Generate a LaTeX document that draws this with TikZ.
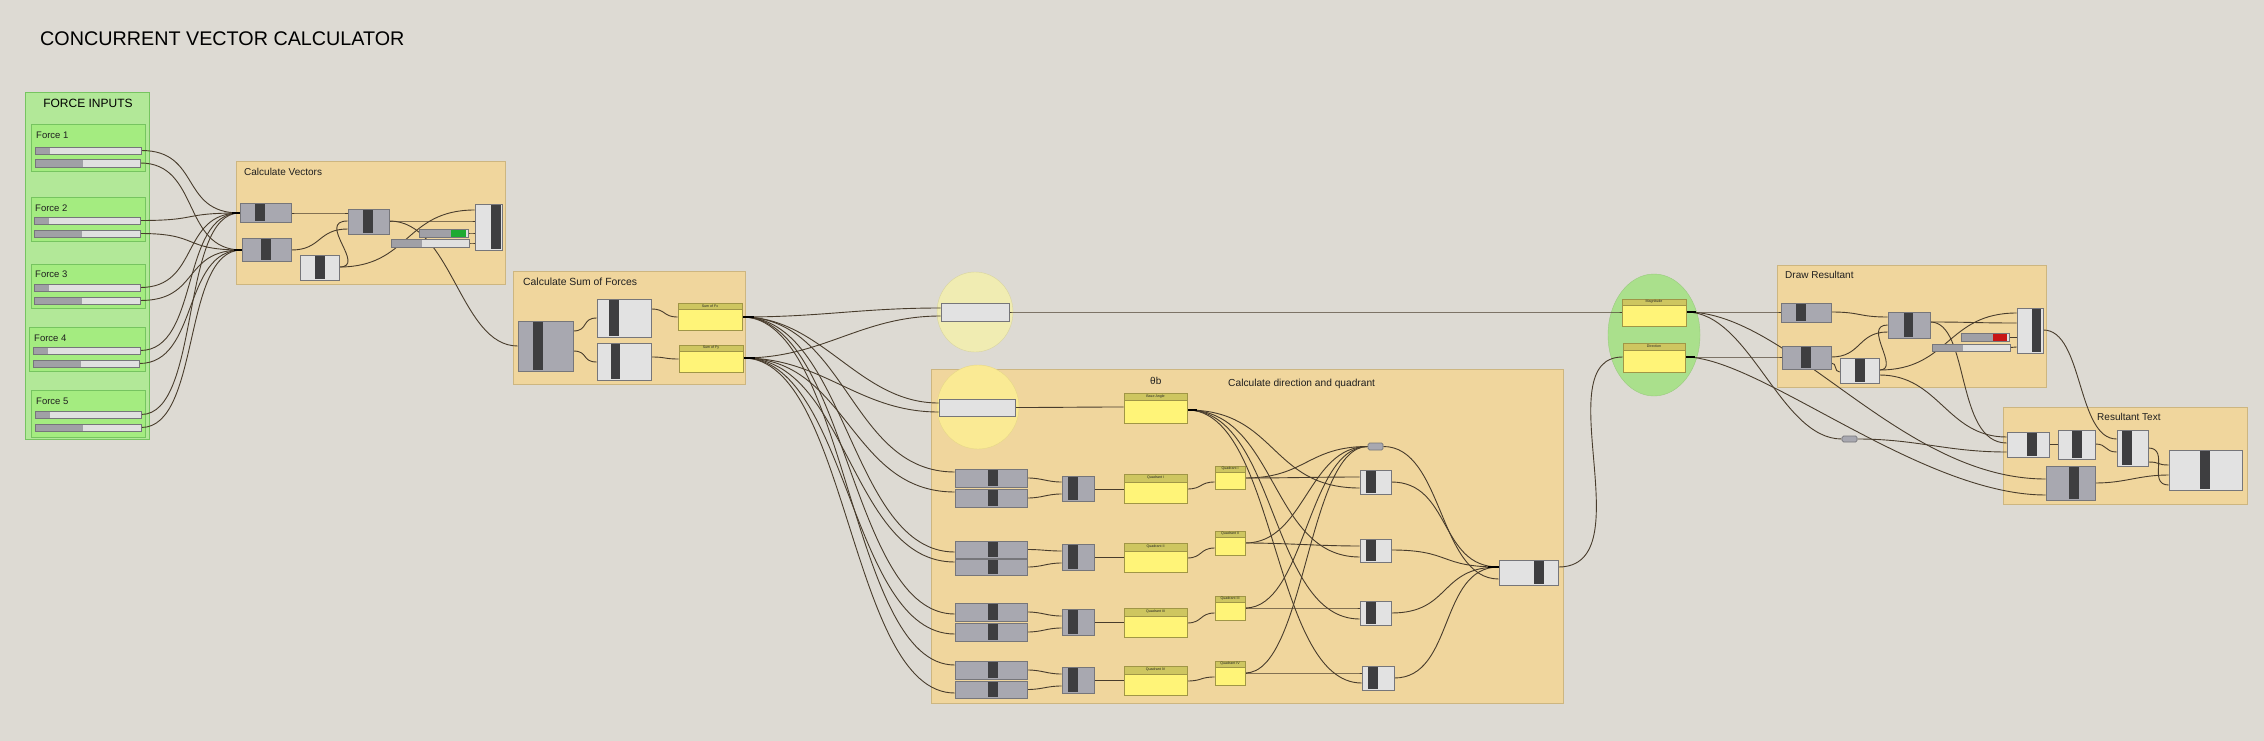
\documentclass[tikz,border=0pt]{standalone}
\usepackage{fontspec}
\setmainfont{Liberation Sans}
\usetikzlibrary{fit,shapes.geometric}
\definecolor{cBg}{RGB}{221,218,211}
\definecolor{cGrp}{RGB}{240,214,157}
\definecolor{cGrpLine}{RGB}{205,182,128}
\definecolor{cF1}{RGB}{178,232,152}
\definecolor{cF2}{RGB}{164,236,128}
\definecolor{cFLine}{RGB}{118,196,96}
\definecolor{cGray}{RGB}{168,168,176}
\definecolor{cLight}{RGB}{226,226,226}
\definecolor{cLine}{RGB}{118,118,122}
\definecolor{cBar}{RGB}{62,62,64}
\definecolor{cSl}{RGB}{224,224,224}
\definecolor{cSlDark}{RGB}{160,160,166}
\definecolor{cYel}{RGB}{255,244,120}
\definecolor{cYelHead}{RGB}{206,198,96}
\definecolor{cYelLine}{RGB}{160,150,70}
\definecolor{cWire}{RGB}{72,60,44}
\definecolor{cEll1}{RGB}{240,236,178}
\definecolor{cEll2}{RGB}{250,234,148}
\definecolor{cEllG}{RGB}{170,224,140}
\definecolor{cGreen}{RGB}{30,170,50}
\definecolor{cRed}{RGB}{200,22,22}
\pgfdeclarelayer{bg}
\pgfdeclarelayer{wires}
\pgfsetlayers{bg,wires,main}
\newcommand\boxnode[6]{\path (#3,#4) coordinate (#1-a) (#5,#6) coordinate (#1-b); \node[#2, fit=(#1-a)(#1-b), inner sep=0pt] (#1) {};}
\newcommand\comp[8]{\boxnode{#1}{#2}{#3}{#4}{#5}{#6}\fill[cBar] (#7,#4+1) rectangle (#8,#6-1);}
\newcommand\slider[7]{\boxnode{#1}{sliderc}{#2}{#3}{#4}{#5}\fill[#7] (#2,#3) rectangle (#6,#5); \draw[cLine, line width=0.6pt] (#2,#3) rectangle (#4,#5);}
\newcommand\panel[7]{\boxnode{#1}{ypanel}{#2}{#3}{#4}{#5}\fill[cYelHead] (#2,#3) rectangle (#4,#7); \draw[cYelLine, line width=0.6pt] (#2,#7) -- (#4,#7); \draw[cYelLine, line width=0.6pt] (#2,#3) rectangle (#4,#5); \node[tinytext] (#1-t) at ({(#2+#4)/2},{(#3+#7)/2}) {#6};}
\newcommand\W[3][50]{\draw[wire] (#2) .. controls +(#1,0) and +(-#1,0) .. (#3);}
\tikzset{
 grp/.style={fill=cGrp, draw=cGrpLine, line width=0.8pt},
 forceouter/.style={fill=cF1, draw=cFLine, line width=0.8pt},
 forcebox/.style={fill=cF2, draw=cFLine, line width=0.6pt},
 graycomp/.style={fill=cGray, draw=cLine, line width=0.7pt},
 lightcomp/.style={fill=cLight, draw=cLine, line width=0.7pt},
 sliderc/.style={fill=cSl, draw=cLine, line width=0.6pt},
 ypanel/.style={fill=cYel, draw=cYelLine, line width=0.6pt},
 wire/.style={draw=cWire, line width=0.9pt},
 stub/.style={draw=black, line width=2.4pt},
 tinytext/.style={font=\fontsize{3.6}{4}\selectfont, inner sep=0pt, text=black!85},
 lbl/.style={font=\fontsize{10}{12}\selectfont, anchor=base west, inner sep=0pt, text=black!88},
}
\begin{document}
\begin{tikzpicture}[x=1pt,y=-1pt]
\useasboundingbox (0,0) rectangle (2264,741);
\begin{pgfonlayer}{bg}
\fill[cBg] (0,0) rectangle (2264,741);
\boxnode{forcein}{forceouter}{25}{92}{149}{439}
\boxnode{fb1}{forcebox}{31}{124}{145}{171}
\boxnode{fb2}{forcebox}{31}{197}{145}{241}
\boxnode{fb3}{forcebox}{31}{264}{145}{308}
\boxnode{fb4}{forcebox}{29}{327}{145}{371}
\boxnode{fb5}{forcebox}{31}{390}{145}{437}
\boxnode{gvec}{grp}{236}{161}{505}{284}
\boxnode{gsum}{grp}{513}{271}{745}{384}
\boxnode{gdir}{grp}{931}{369}{1563}{703}
\boxnode{gdraw}{grp}{1777}{265}{2046}{387}
\boxnode{gtext}{grp}{2003}{407}{2247}{504}
\node[ellipse, fill=cEll1, draw=cEll1!90!black, line width=0.4pt, minimum width=76pt, minimum height=80pt, inner sep=0pt] (ell1) at (975,312) {};
\node[ellipse, fill=cEll2, draw=cEll2!92!black, line width=0.4pt, minimum width=82pt, minimum height=84pt, inner sep=0pt] (ell2) at (978,407) {};
\node[ellipse, fill=cEllG, draw=cEllG!90!black, line width=0.4pt, minimum width=92pt, minimum height=122pt, inner sep=0pt] (ellg) at (1654,335) {};
\end{pgfonlayer}

% texts
\node[anchor=base west, inner sep=0pt, font=\fontsize{19.75}{24}\selectfont] (title) at (40,46) {CONCURRENT VECTOR CALCULATOR};
\node[anchor=base, inner sep=0pt, font=\fontsize{12}{14}\selectfont] (fitxt) at (88,107.5) {FORCE INPUTS};
\node[lbl, font=\fontsize{9.5}{11}\selectfont] (fl1) at (36,138.5) {Force 1};
\node[lbl, font=\fontsize{9.5}{11}\selectfont] (fl2) at (35,211.5) {Force 2};
\node[lbl, font=\fontsize{9.5}{11}\selectfont] (fl3) at (35,277.5) {Force 3};
\node[lbl, font=\fontsize{9.5}{11}\selectfont] (fl4) at (34,341.5) {Force 4};
\node[lbl, font=\fontsize{9.5}{11}\selectfont] (fl5) at (36,404.5) {Force 5};
\node[lbl] (lvec) at (244,175.5) {Calculate Vectors};
\node[lbl, font=\fontsize{10.4}{12}\selectfont] (lsum) at (523,285.5) {Calculate Sum of Forces};
\node[lbl] (lth) at (1150,384) {θb};
\node[lbl, font=\fontsize{10.2}{12}\selectfont] (ldir) at (1228,386.5) {Calculate direction and quadrant};
\node[lbl] (ldraw) at (1785,278.5) {Draw Resultant};
\node[lbl] (ltext) at (2097,420.5) {Resultant Text};

% force sliders
\slider{f1a}{35}{147}{141}{154}{50}{cSlDark}
\slider{f1b}{35}{159}{140}{167}{83}{cSlDark}
\slider{f2a}{34}{217}{140}{224}{49}{cSlDark}
\slider{f2b}{34}{230}{140}{237}{82}{cSlDark}
\slider{f3a}{34}{284}{140}{291}{49}{cSlDark}
\slider{f3b}{34}{297}{140}{304}{82}{cSlDark}
\slider{f4a}{33}{347}{140}{354}{48}{cSlDark}
\slider{f4b}{33}{360}{139}{367}{81}{cSlDark}
\slider{f5a}{35}{411}{141}{418}{50}{cSlDark}
\slider{f5b}{35}{424}{141}{431}{83}{cSlDark}

% calculate vectors
\comp{c1}{graycomp}{240}{203}{291}{222}{255}{265}
\comp{c2}{graycomp}{242}{238}{291}{261}{261}{271}
\comp{c3}{graycomp}{348}{209}{389}{234}{363}{373}
\comp{c4}{lightcomp}{300}{255}{339}{280}{315}{325}
\slider{gsl}{419}{229}{468}{237}{451}{cSlDark}
\fill[cGreen] (451,229.5) rectangle (466,236.5);
\slider{lsl}{391}{239}{469}{247}{422}{cSlDark}
\comp{c5}{lightcomp}{475}{204}{502}{250}{491}{501}

% sum
\comp{s1}{graycomp}{518}{321}{573}{371}{533}{543}
\comp{s2}{lightcomp}{597}{299}{651}{337}{609}{619}
\comp{s3}{lightcomp}{597}{343}{651}{380}{611}{620}
\panel{pfx}{678}{303}{742}{330}{Sum of Fx}{309}
\panel{pfy}{679}{345}{743}{372}{Sum of Fy}{351}

% ellipses content
\boxnode{r1}{lightcomp}{941}{303}{1009}{321}
\boxnode{r2}{lightcomp}{939}{399}{1015}{416}
\panel{base}{1124}{393}{1187}{423}{Base Angle}{400}

% rows
\comp{pa1}{graycomp}{955}{469}{1027}{487}{988}{998}
\comp{pb1}{graycomp}{955}{489}{1027}{507}{988}{998}
\comp{pa2}{graycomp}{955}{541}{1027}{558}{988}{998}
\comp{pb2}{graycomp}{955}{559}{1027}{575}{988}{998}
\comp{pa3}{graycomp}{955}{603}{1027}{621}{988}{998}
\comp{pb3}{graycomp}{955}{623}{1027}{641}{988}{998}
\comp{pa4}{graycomp}{955}{661}{1027}{679}{988}{998}
\comp{pb4}{graycomp}{955}{681}{1027}{698}{988}{998}
\comp{sg1}{graycomp}{1062}{476}{1094}{501}{1068}{1078}
\comp{sg2}{graycomp}{1062}{544}{1094}{570}{1068}{1078}
\comp{sg3}{graycomp}{1062}{609}{1094}{635}{1068}{1078}
\comp{sg4}{graycomp}{1062}{667}{1094}{693}{1068}{1078}
\panel{q1}{1124}{474}{1187}{503}{Quadrant I}{482}
\panel{q2}{1124}{543}{1187}{572}{Quadrant II}{551}
\panel{q3}{1124}{608}{1187}{637}{Quadrant III}{616}
\panel{q4}{1124}{666}{1187}{695}{Quadrant IV}{674}
\panel{y1}{1215}{466}{1245}{489}{Quadrant I}{472}
\panel{y2}{1215}{531}{1245}{555}{Quadrant II}{537}
\panel{y3}{1215}{596}{1245}{620}{Quadrant III}{602}
\panel{y4}{1215}{661}{1245}{685}{Quadrant IV}{667}
\boxnode{rel1}{graycomp, rounded corners=1.5pt}{1368}{443}{1383}{450}
\comp{lc1}{lightcomp}{1360}{470}{1391}{494}{1366}{1376}
\comp{lc2}{lightcomp}{1360}{539}{1391}{562}{1366}{1376}
\comp{lc3}{lightcomp}{1360}{601}{1391}{625}{1366}{1376}
\comp{lc4}{lightcomp}{1362}{666}{1394}{690}{1368}{1378}
\comp{fin}{lightcomp}{1499}{560}{1558}{585}{1534}{1544}

% green ellipse panels
\panel{mag}{1622}{299}{1686}{326}{Magnitude}{305}
\panel{dir}{1623}{343}{1685}{372}{Direction}{350}

% draw resultant
\comp{d1}{graycomp}{1781}{303}{1831}{322}{1796}{1806}
\comp{d2}{graycomp}{1782}{346}{1831}{369}{1801}{1811}
\comp{d3}{graycomp}{1888}{312}{1930}{338}{1904}{1913}
\comp{d4}{lightcomp}{1840}{358}{1879}{383}{1855}{1865}
\slider{rsl}{1961}{333}{2009}{341}{1993}{cSlDark}
\fill[cRed] (1993,333.5) rectangle (2007,340.5);
\slider{lsl2}{1932}{344}{2010}{351}{1963}{cSlDark}
\comp{d5}{lightcomp}{2017}{308}{2043}{353}{2032}{2041}

% resultant text
\boxnode{rel2}{graycomp, rounded corners=1.5pt}{1842}{436}{1857}{442}
\comp{rt1}{lightcomp}{2007}{432}{2049}{457}{2027}{2037}
\comp{rt2}{lightcomp}{2058}{430}{2095}{459}{2072}{2082}
\comp{rt3}{lightcomp}{2117}{430}{2148}{466}{2122}{2132}
\comp{rt4}{graycomp}{2046}{466}{2095}{500}{2069}{2079}
\comp{rt5}{lightcomp}{2169}{450}{2242}{490}{2200}{2210}

\begin{pgfonlayer}{wires}
% force inputs to vectors
\foreach \k in {1,...,5}{
  \W[60]{f\k a.east}{c1.west |- 0,213}
  \W[60]{f\k b.east}{c2.west |- 0,250}
}
\draw[stub] (232,213) -- (c1.west |- 0,213);
\draw[stub] (234,250) -- (c2.west |- 0,250);
% inside calculate vectors
\W[30]{c1.east |- 0,213}{c3.west |- 0,213}
\W[30]{c2.east |- 0,250}{c3.west |- 0,229}
\draw[wire] (c4.east |- 0,267) .. controls +(28,0) and +(-32,0) .. (c3.west |- 0,221);
\W[70]{c4.east |- 0,267}{c5.west |- 0,210}
\W[40]{c3.east |- 0,221}{c5.west |- 0,221}
\draw[wire] (c3.east |- 0,221) .. controls (452,221) and (460,346) .. (s1.west |- 0,346);
\W[5]{gsl.east}{c5.west |- 0,233}
\W[5]{lsl.east}{c5.west |- 0,243}
% sum of forces
\W[15]{s1.east |- 0,331}{s2.west |- 0,318}
\W[15]{s1.east |- 0,351}{s3.west |- 0,362}
\W[15]{s2.east |- 0,309}{pfx.west |- 0,317}
\W[15]{s3.east |- 0,357}{pfy.west |- 0,359}
% fan out
\W[80]{pfx.east |- 0,317}{r1.west |- 0,308}
\W[80]{pfy.east |- 0,358}{r1.west |- 0,316}
\W[80]{pfx.east |- 0,317}{r2.west |- 0,403}
\W[80]{pfy.east |- 0,358}{r2.west |- 0,412}
\W[105]{pfx.east |- 0,317}{pa1.west |- 0,472}
\W[105]{pfy.east |- 0,358}{pb1.west |- 0,492}
\W[105]{pfx.east |- 0,317}{pa2.west |- 0,552}
\W[105]{pfy.east |- 0,358}{pb2.west |- 0,562}
\W[105]{pfx.east |- 0,317}{pa3.west |- 0,614}
\W[105]{pfy.east |- 0,358}{pb3.west |- 0,634}
\W[105]{pfx.east |- 0,317}{pa4.west |- 0,665}
\W[105]{pfy.east |- 0,358}{pb4.west |- 0,693}
\draw[stub] (pfx.east |- 0,317) -- (754,317);
\draw[stub] (pfy.east |- 0,358) -- (755,358);
% ellipses
\W[80]{r1.east}{mag.west |- 0,312}
\W[40]{r2.east}{base.west |- 0,407}
% rows
\W[15]{pa1.east}{sg1.west |- 0,482}
\W[15]{pb1.east}{sg1.west |- 0,494}
\W[15]{pa2.east}{sg2.west |- 0,551}
\W[15]{pb2.east}{sg2.west |- 0,563}
\W[15]{pa3.east}{sg3.west |- 0,616}
\W[15]{pb3.east}{sg3.west |- 0,628}
\W[15]{pa4.east}{sg4.west |- 0,674}
\W[15]{pb4.east}{sg4.west |- 0,686}
\W[15]{sg1.east |- 0,489}{q1.west |- 0,489}
\W[15]{sg2.east |- 0,557}{q2.west |- 0,557}
\W[15]{sg3.east |- 0,622}{q3.west |- 0,622}
\W[15]{sg4.east |- 0,680}{q4.west |- 0,680}
\W[15]{q1.east |- 0,489}{y1.west |- 0,482}
\W[15]{q2.east |- 0,558}{y2.west |- 0,548}
\W[15]{q3.east |- 0,623}{y3.west |- 0,613}
\W[15]{q4.east |- 0,681}{y4.west |- 0,677}
\W[40]{y1.east |- 0,478}{lc1.west |- 0,477}
\W[40]{y2.east |- 0,543}{lc2.west |- 0,546}
\W[40]{y3.east |- 0,608}{lc3.west |- 0,608}
\W[40]{y4.east |- 0,673}{lc4.west |- 0,673}
\W[60]{y1.east |- 0,478}{rel1.west}
\W[60]{y2.east |- 0,543}{rel1.west}
\W[60]{y3.east |- 0,608}{rel1.west}
\W[60]{y4.east |- 0,673}{rel1.west}
\W[90]{base.east |- 0,410}{lc1.west |- 0,488}
\W[90]{base.east |- 0,410}{lc2.west |- 0,557}
\W[90]{base.east |- 0,410}{lc3.west |- 0,619}
\W[90]{base.east |- 0,410}{lc4.west |- 0,683}
\draw[stub] (base.east |- 0,410) -- (1197,410);
\W[60]{lc1.east |- 0,482}{fin.west |- 0,567}
\W[60]{lc2.east |- 0,550}{fin.west |- 0,567}
\W[60]{lc3.east |- 0,613}{fin.west |- 0,567}
\W[60]{lc4.east |- 0,678}{fin.west |- 0,567}
\W[60]{rel1.east}{fin.west |- 0,579}
\draw[stub] (1488,567) -- (fin.west |- 0,567);
\draw[wire] (fin.east |- 0,567) .. controls (1645,567) and (1545,357) .. (dir.west |- 0,357);
% green ellipse outputs
\W[40]{mag.east |- 0,312}{d1.west |- 0,312}
\draw[wire] (mag.east |- 0,312) .. controls (1750,312) and (1780,439) .. (rel2.west);
\draw[wire] (mag.east |- 0,312) .. controls (1790,312) and (1900,479) .. (rt4.west |- 0,479);
\W[40]{dir.east |- 0,357}{d2.west |- 0,357}
\draw[wire] (dir.east |- 0,357) .. controls (1760,357) and (1920,495) .. (rt4.west |- 0,495);
\draw[stub] (mag.east |- 0,312) -- (1696,312);
\draw[stub] (dir.east |- 0,357) -- (1695,357);
% draw resultant
\W[30]{d1.east |- 0,312}{d3.west |- 0,317}
\W[30]{d2.east |- 0,357}{d3.west |- 0,332}
\W[6]{d2.east |- 0,363}{d4.west |- 0,372}
\draw[wire] (d4.east |- 0,370) .. controls +(22,0) and +(-26,0) .. (d3.west |- 0,325);
\W[70]{d4.east |- 0,370}{d5.west |- 0,313}
\W[40]{d3.east |- 0,322}{d5.west |- 0,323}
\draw[wire] (d3.east |- 0,322) .. controls (1970,322) and (1955,443) .. (rt1.west |- 0,443);
\W[4]{rsl.east}{d5.west |- 0,337}
\W[4]{lsl2.east}{d5.west |- 0,347}
\W[40]{d5.east |- 0,330}{rt3.west |- 0,439}
\W[60]{d4.east |- 0,375}{rt1.west |- 0,437}
% resultant text
\W[60]{rel2.east}{rt1.west |- 0,452}
\W[5]{rt1.east |- 0,444}{rt2.west |- 0,444}
\W[12]{rt2.east |- 0,444}{rt3.west |- 0,452}
\W[22]{rt3.east |- 0,448}{rt5.west |- 0,485}
\W[12]{rt3.east |- 0,462}{rt5.west |- 0,465}
\W[30]{rt4.east |- 0,483}{rt5.west |- 0,475}
\end{pgfonlayer}
\end{tikzpicture}
\end{document}
